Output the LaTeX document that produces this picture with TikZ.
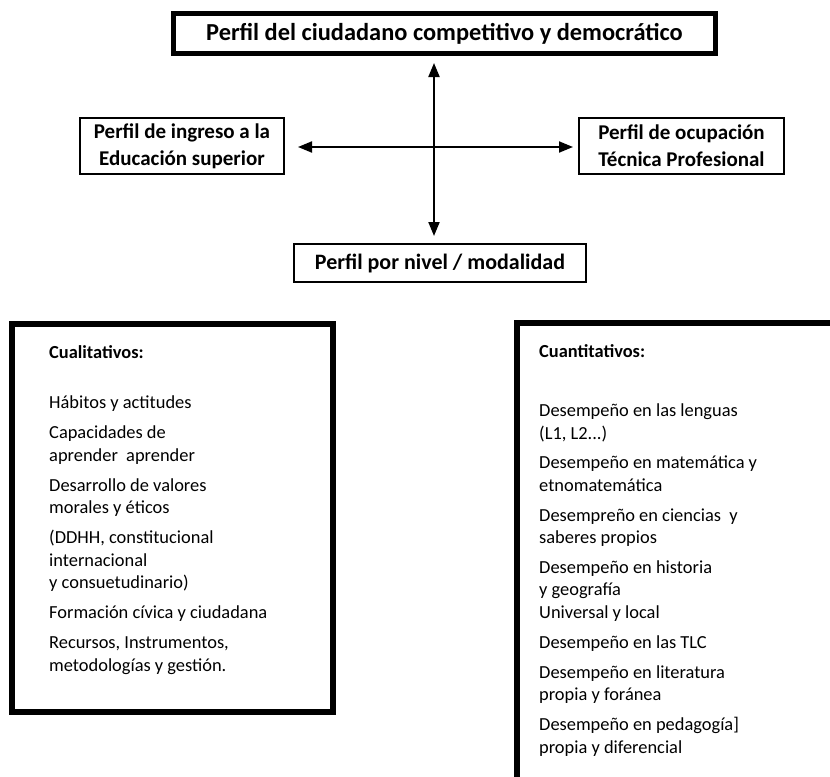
\documentclass[tikz,border=0pt]{standalone}
\usepackage{fontspec}
\setmainfont{Carlito}
\usetikzlibrary{arrows.meta}
\begin{document}
\begin{tikzpicture}[x=1bp,y=-1bp,
  titlebox/.style={draw, line width=5bp, minimum width=542bp, minimum height=40bp,
    inner sep=0pt, font=\fontsize{24.4bp}{29bp}\selectfont\bfseries},
  profile/.style={draw, line width=2bp, inner sep=0pt, align=center,
    font=\fontsize{21bp}{27bp}\selectfont\bfseries},
  panel/.style={draw, line width=6bp, inner sep=0pt},
  listtext/.style={anchor=base west, inner sep=0pt, align=left,
    font=\fontsize{18.4bp}{22.5bp}\selectfont},
  link/.style={line width=2bp,
    {Triangle[length=14bp,width=11bp]}-{Triangle[length=14bp,width=11bp]}}
]
\useasboundingbox (0,0) rectangle (830,777);
\clip (0,0) rectangle (830,777);

% profile boxes
\node[titlebox] (ciudadano) at (444.5,33.5) {Perfil del ciudadano competitivo y democrático};
\node[profile, minimum width=204bp, minimum height=56bp] (ingreso) at (182,146)
  {Perfil de ingreso a la\\Educación superior};
\node[profile, minimum width=205bp, minimum height=56bp] (ocupacion) at (681.5,146)
  {Perfil de ocupación\\Técnica Profesional};
\node[profile, minimum width=292bp, minimum height=38bp,
  font=\fontsize{22bp}{27bp}\selectfont\bfseries] (nivel) at (440,263)
  {Perfil por nivel / modalidad};

% crossing arrows
\coordinate (cross) at (434,147);
\draw[link, shorten <=7bp, shorten >=7bp] (ciudadano.south -| cross) -- (nivel.north -| cross);
\draw[link, shorten <=13bp, shorten >=5bp] (ingreso.east |- cross) -- (ocupacion.west |- cross);

% qualitative and quantitative panels
\node[panel, minimum width=320.5bp, minimum height=387.5bp] (cualit) at (172.25,517.75) {};
\node[panel, line width=5.5bp, minimum width=400bp, minimum height=500bp] (cuantit) at (717,573) {};

% the list nodes sit on the baseline of their last line
\node[listtext] (cualitxt) at (49,671) {%
\textbf{Cualitativos:}\\[27.5bp]
Hábitos y actitudes\\[7.5bp]
Capacidades de\\
aprender\ \ aprender\\[7.5bp]
Desarrollo de valores\\
morales y éticos\\[7.5bp]
(DDHH, constitucional\\
internacional\\
y consuetudinario)\\[7.5bp]
Formación cívica y ciudadana\\[7.5bp]
Recursos, Instrumentos,\\
metodologías y gestión.};

\node[listtext] (cuantitxt) at (539,753) {%
\textbf{Cuantitativos:}\\[36.5bp]
Desempeño en las lenguas\\
(L1, L2...)\\[7bp]
Desempeño en matemática y\\
etnomatemática\\[7.5bp]
Desempreño en ciencias\ \ y\\
saberes propios\\[7bp]
Desempeño en historia\\
y geografía\\
Universal y local\\[7.5bp]
Desempeño en las TLC\\[7.5bp]
Desempeño en literatura\\
propia y foránea\\[7.5bp]
Desempeño en pedagogía]\\
propia y diferencial};
\end{tikzpicture}
\end{document}
